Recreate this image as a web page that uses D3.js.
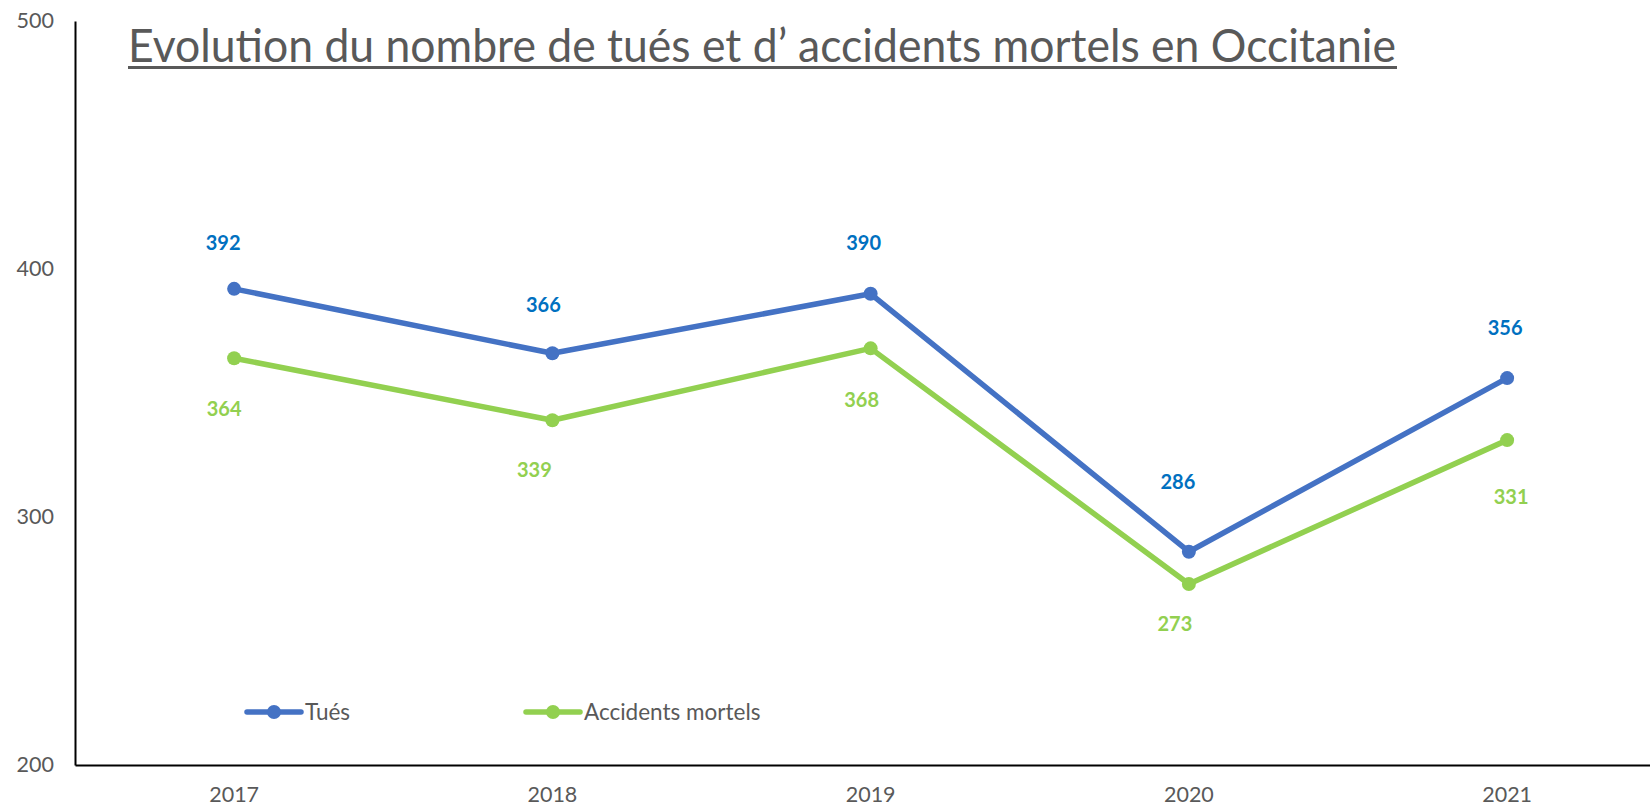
<!DOCTYPE html>
<html>
<head>
<meta charset="utf-8">
<script src="https://cdn.jsdelivr.net/npm/d3@7"></script>
<style>
  body { margin: 0; background: #fff; }
  text { font-family: Lato, "Open Sans", sans-serif; }
</style>
</head>
<body>
<div id="chart"></div>
<script>
// data
var years = ["2017", "2018", "2019", "2020", "2021"];
var tues = [392, 366, 390, 286, 356];
var accidents = [364, 339, 368, 273, 331];
var yTicks = [200, 300, 400, 500];
var seriesNames = ["Tués", "Accidents mortels"];

var svgWidth = 1650;
var svgHeight = 809;

var svg = d3.select("#chart").append("svg")
    .attr("width", svgWidth)
    .attr("height", svgHeight);

//scales
var x = d3.scaleBand()
    .domain(years)
    .range([75, 75 + 5 * 318.25]);

var y = d3.scaleLinear()
    .domain([200, 500])
    .range([765, 21]);

var cx = function(d) { return x(d) + x.bandwidth() / 2; };

//y axis
var yAxis = svg.append("g")
    .attr("transform", "translate(75,0)")
    .call(d3.axisLeft(y).tickValues(yTicks).tickSize(0).tickPadding(21));
yAxis.select(".domain").attr("stroke", "#000").attr("stroke-width", 2);
yAxis.selectAll("text")
    .attr("font-size", 21.5)
    .attr("fill", "#595959")
    .style("font-family", "Lato, 'Open Sans', sans-serif");

//x axis
var xAxis = svg.append("g")
    .attr("transform", "translate(0,765)")
    .call(d3.axisBottom(x).tickSize(0).tickPadding(22));
xAxis.select(".domain").attr("stroke", "#000").attr("stroke-width", 2);
xAxis.selectAll("text")
    .attr("font-size", 21.5)
    .attr("fill", "#595959")
    .style("font-family", "Lato, 'Open Sans', sans-serif");

//title
svg.append("text")
    .attr("x", 128)
    .attr("y", 62)
    .attr("font-size", 47)
    .attr("fill", "#595959")
    .attr("textLength", 1268)
    .attr("lengthAdjust", "spacingAndGlyphs")
    .text("Evolution du nombre de tués et d\u2019 accidents mortels en Occitanie");

svg.append("line")
    .attr("x1", 128).attr("x2", 1397)
    .attr("y1", 67.5).attr("y2", 67.5)
    .attr("stroke", "#595959")
    .attr("stroke-width", 3);

//series, with the label nudges seen in the picture
var series = [
    { name: seriesNames[0], values: tues, color: "#4472C4", labelColor: "#0070C0",
      dx: [-11, -9, -7, -11, -2], dy: [-46, -48, -51, -70, -50] },
    { name: seriesNames[1], values: accidents, color: "#92D050", labelColor: "#92D050",
      dx: [-10, -18, -9, -14, 4], dy: [51, 50, 52, 40, 57] }
];

var line = d3.line()
    .x(function(d, i) { return cx(years[i]); })
    .y(function(d) { return y(d); });

series.forEach(function(s) {
    svg.append("path")
        .datum(s.values)
        .attr("fill", "none")
        .attr("stroke", s.color)
        .attr("stroke-width", 5.5)
        .attr("stroke-linejoin", "round")
        .attr("d", line);

    svg.selectAll(null)
        .data(s.values)
        .enter()
        .append("circle")
        .attr("cx", function(d, i) { return cx(years[i]); })
        .attr("cy", function(d) { return y(d); })
        .attr("r", 7)
        .attr("fill", s.color);

    svg.selectAll(null)
        .data(s.values)
        .enter()
        .append("text")
        .attr("x", function(d, i) { return cx(years[i]) + s.dx[i]; })
        .attr("y", function(d, i) { return y(d) + s.dy[i]; })
        .attr("dy", "0.35em")
        .attr("text-anchor", "middle")
        .attr("font-size", 20)
        .attr("font-weight", "bold")
        .attr("fill", s.labelColor)
        .text(function(d) { return d; });
});

//legend
var legendPos = [247, 526];
series.forEach(function(s, i) {
    var g = svg.append("g").attr("transform", "translate(" + legendPos[i] + ",712)");
    g.append("line")
        .attr("x1", 0).attr("x2", 54)
        .attr("stroke", s.color)
        .attr("stroke-width", 5.5)
        .attr("stroke-linecap", "round");
    g.append("circle")
        .attr("cx", 27)
        .attr("r", 7)
        .attr("fill", s.color);
    g.append("text")
        .attr("x", 58)
        .attr("dy", "0.35em")
        .attr("font-size", 22.5)
        .attr("fill", "#595959")
        .text(s.name);
});
</script>
</body>
</html>
